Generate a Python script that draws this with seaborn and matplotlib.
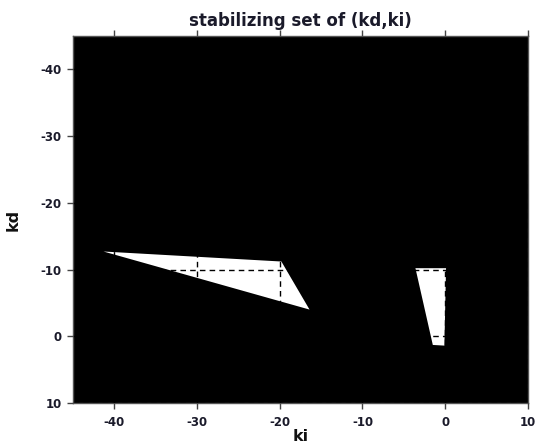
import matplotlib
matplotlib.use("Agg")
import matplotlib.pyplot as plt
import seaborn as sns

# Stabilizing regions in the (ki, kd) plane: vertices of each white polygon
region1_ki = [-41.3, -19.8, -16.4]
region1_kd = [-12.7, -11.2, -4.0]
region2_ki = [-3.6, 0.1, -0.1, -1.5]
region2_kd = [-10.2, -10.2, 1.4, 1.3]

x_ticks = [-40, -30, -20, -10, 0, 10]
y_ticks = [-40, -30, -20, -10, 0, 10]

sns.set_theme(style="ticks", rc={
    "axes.facecolor": "black",
    "axes.edgecolor": "#555555",
    "xtick.color": "#444444",
    "ytick.color": "#444444",
    "xtick.labelcolor": "#1a1a2a",
    "ytick.labelcolor": "#1a1a2a",
})
plt.rcParams["font.family"] = ["DejaVu Sans"]

fig = plt.figure(figsize=(5.36, 4.46), dpi=100)
ax = fig.add_axes([0.136, 0.0964, 0.849, 0.823])

ax.fill(region1_ki, region1_kd, color="white", linewidth=0, zorder=1)
ax.fill(region2_ki, region2_kd, color="white", linewidth=0, zorder=1)

ax.set_xlim(-45, 10)
ax.set_ylim(10, -45)
ax.set_xticks(x_ticks)
ax.set_yticks(y_ticks)
ax.set_xticklabels([str(t) for t in x_ticks], fontsize=8.5, fontweight="bold")
ax.set_yticklabels([str(t) for t in y_ticks], fontsize=8.5, fontweight="bold")
ax.tick_params(axis="both", direction="out", length=4, width=1, pad=4)
ax.tick_params(axis="x", top=True, labeltop=False, pad=5)

ax.set_axisbelow(False)
ax.grid(True, color="black", linestyle=(0, (4, 3)), linewidth=1.0)

for s in ax.spines.values():
    s.set_linewidth(1.0)

ax.set_xlabel("ki", fontsize=11.5, fontweight="bold", labelpad=0, color="#111111")
ax.set_ylabel("kd", fontsize=11.5, fontweight="bold", labelpad=14, color="#111111")
ax.set_title("stabilizing set of (kd,ki)", fontsize=12, fontweight="bold",
             color="#1a1a2a", pad=7)

fig.savefig("out.png", dpi=100)
